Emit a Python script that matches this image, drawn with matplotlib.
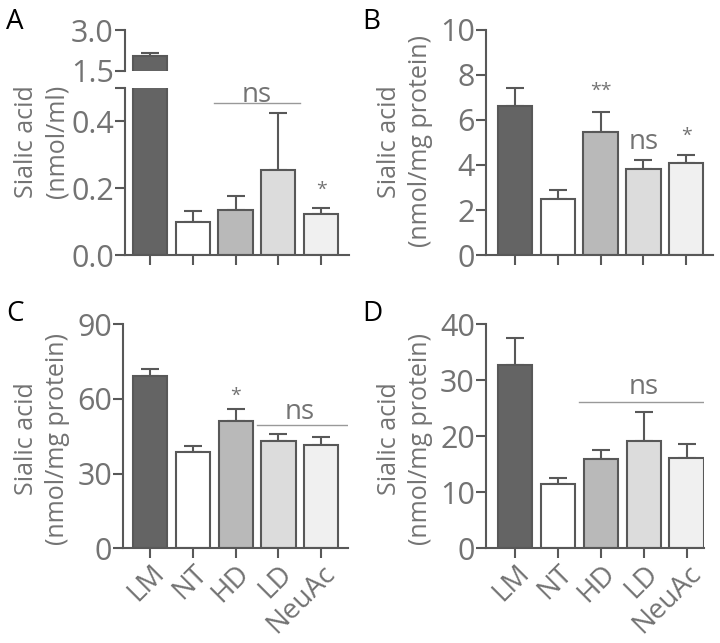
import matplotlib
matplotlib.use('Agg')
import matplotlib.pyplot as plt

plt.rcParams['font.family'] = ['Open Sans', 'DejaVu Sans']

# Data
groups = ['LM', 'NT', 'HD', 'LD', 'NeuAc']
fills = ['#646464', '#ffffff', '#b9b9b9', '#dcdcdc', '#f0f0f0']

a_mean = [2.05, 0.099, 0.134, 0.254, 0.122]
a_err = [0.12, 0.033, 0.043, 0.172, 0.020]

b_mean = [6.62, 2.47, 5.45, 3.81, 4.07]
b_err = [0.79, 0.42, 0.92, 0.40, 0.36]

c_mean = [69.3, 38.5, 51.1, 43.2, 41.6]
c_err = [2.6, 2.5, 4.7, 2.5, 2.9]

d_mean = [32.7, 11.5, 16.0, 19.2, 16.1]
d_err = [4.8, 1.1, 1.6, 5.1, 2.5]

GRAY = '#737373'
EDGE = '#585858'
TICK_FS = 22
LAB_FS = 18

fig = plt.figure(figsize=(7.2, 6.43), dpi=100)


def style(ax, ylim, yticks, yticklabels, xlim, show_x=False):
    x = range(len(groups))
    ax.set_ylim(*ylim)
    ax.set_xlim(*xlim)
    ax.set_yticks(yticks)
    ax.set_yticklabels(yticklabels, fontsize=TICK_FS, color=GRAY)
    ax.set_xticks(list(x))
    if show_x:
        ax.set_xticklabels(groups, fontsize=20, color=GRAY, rotation=45,
                           ha='right', va='top', rotation_mode='anchor')
    else:
        ax.set_xticklabels([])
    for s in ['top', 'right']:
        ax.spines[s].set_visible(False)
    for s in ['left', 'bottom']:
        ax.spines[s].set_color(EDGE)
        ax.spines[s].set_linewidth(1.5)
    ax.tick_params(axis='both', colors=EDGE, width=1.5, length=7, pad=1)
    ax.tick_params(axis='both', labelcolor=GRAY)


def bars(ax, mean, err):
    x = range(len(groups))
    ax.bar(x, mean, width=0.8, color=fills, edgecolor=EDGE, linewidth=1.5, zorder=2)
    ax.errorbar(x, mean, yerr=[[0] * len(err), err], fmt='none', ecolor=EDGE,
                elinewidth=1.5, capsize=6.5, capthick=1.5, zorder=1)


def ylabel(x, y, text):
    fig.text(x, y, text, rotation=90, ha='center', va='center',
             fontsize=LAB_FS, color=GRAY, linespacing=1.3)


# Panel A (broken axis)
axA = fig.add_axes([0.1736, 0.6034, 0.3111, 0.2597])
bars(axA, a_mean, a_err)
style(axA, (0, 0.5), [0, 0.2, 0.4, 0.5], ['0.0', '0.2', '0.4', ''], (-0.584, 4.65))

axA2 = fig.add_axes([0.1736, 0.8896, 0.3111, 0.0637])
bars(axA2, a_mean, a_err)
style(axA2, (1.5, 3.0), [1.5, 3.0], ['1.5', '3.0'], (-0.584, 4.65))
axA2.spines['bottom'].set_visible(False)
axA2.tick_params(axis='x', length=0)

axA.plot([1.5, 3.5], [0.455, 0.455], color='#999999', lw=1)
axA.text(2.5, 0.478, 'ns', ha='center', va='center', fontsize=20, color=GRAY)
axA.text(4, 0.195, '*', ha='center', va='center', fontsize=14, color=GRAY)
ylabel(0.058, 0.78, 'Sialic acid\n(nmol/ml)')

# Panel B
axB = fig.add_axes([0.675, 0.6034, 0.315, 0.35])
bars(axB, b_mean, b_err)
style(axB, (0, 10), [0, 2, 4, 6, 8, 10], ['0', '2', '4', '6', '8', '10'], (-0.676, 4.62))
axB.text(2, 7.3, '**', ha='center', va='center', fontsize=14, color=GRAY)
axB.text(3, 5.0, 'ns', ha='center', va='center', fontsize=20, color=GRAY)
axB.text(4, 5.3, '*', ha='center', va='center', fontsize=14, color=GRAY)
ylabel(0.5625, 0.78, 'Sialic acid\n(nmol/mg protein)')

# Panel C
axC = fig.add_axes([0.171, 0.1473, 0.3126, 0.3488])
bars(axC, c_mean, c_err)
style(axC, (0, 90), [0, 30, 60, 90], ['0', '30', '60', '90'], (-0.63, 4.63), show_x=True)
axC.text(2, 61.0, '*', ha='center', va='center', fontsize=14, color=GRAY)
axC.plot([2.5, 4.6], [49.3, 49.3], color='#999999', lw=1)
axC.text(3.5, 54.5, 'ns', ha='center', va='center', fontsize=20, color=GRAY)
ylabel(0.058, 0.318, 'Sialic acid\n(nmol/mg protein)')

# Panel D
axD = fig.add_axes([0.675, 0.1473, 0.303, 0.3483])
bars(axD, d_mean, d_err)
style(axD, (0, 40), [0, 10, 20, 30, 40], ['0', '10', '20', '30', '40'], (-0.676, 4.41), show_x=True)
axD.plot([1.5, 4.5], [26.2, 26.2], color='#999999', lw=1)
axD.text(3, 28.8, 'ns', ha='center', va='center', fontsize=20, color=GRAY)
ylabel(0.5625, 0.318, 'Sialic acid\n(nmol/mg protein)')

# Panel letters
for x, y, t in [(0.008, 0.988, 'A'), (0.503, 0.988, 'B'), (0.008, 0.533, 'C'), (0.503, 0.533, 'D')]:
    fig.text(x, y, t, fontsize=20, color='black', ha='left', va='top')

plt.savefig('out.png', dpi=100)
